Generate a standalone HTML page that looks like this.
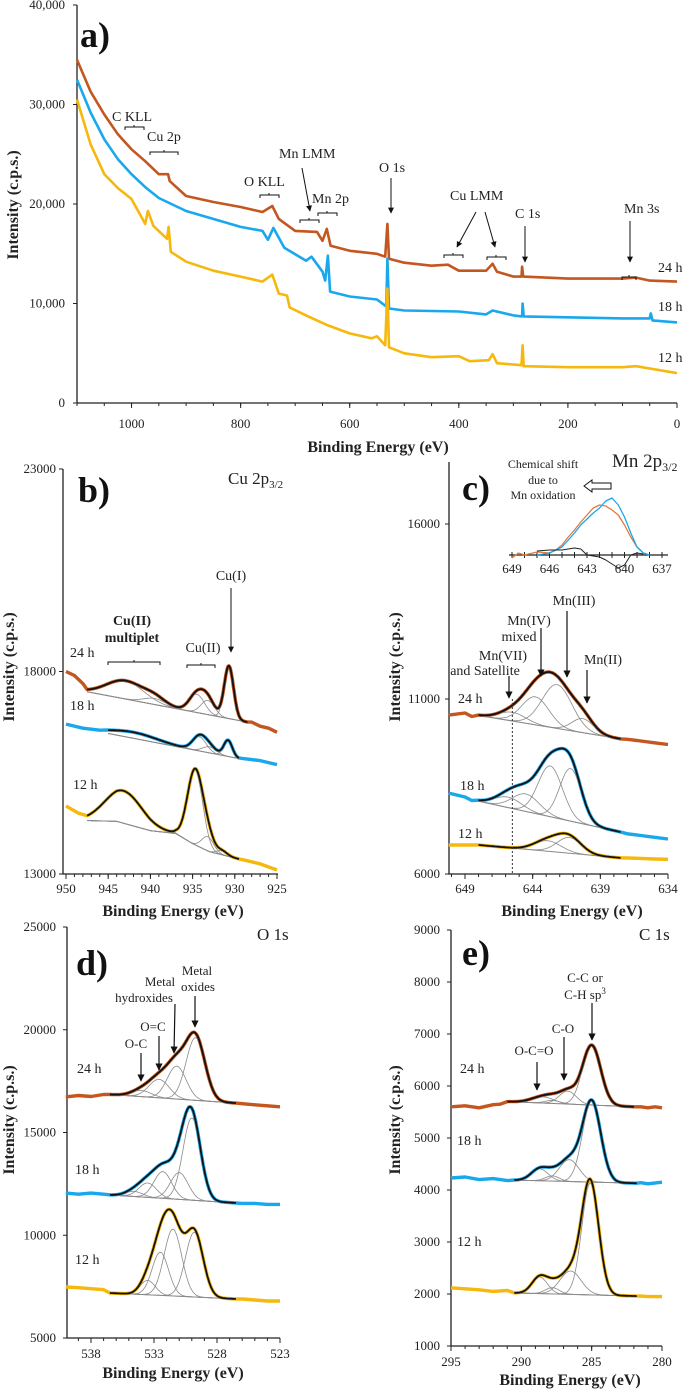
<!DOCTYPE html>
<html><head><meta charset="utf-8">
<style>
html,body{margin:0;padding:0;background:#fff;}
svg{display:block;font-family:"Liberation Serif",serif;}
.t{font-size:14px;fill:#222;}
.tk{font-size:13px;fill:#222;}
.ttl{font-size:16px;font-weight:bold;fill:#222;}
.lt{font-size:36px;font-weight:bold;fill:#111;}
.an{font-size:14px;fill:#222;}
</style></head>
<body>
<svg id="fig" width="685" height="1391" viewBox="0 0 685 1391" xmlns="http://www.w3.org/2000/svg">
<defs>
<marker id="ah" viewBox="0 0 10 10" refX="9" refY="5" markerWidth="6" markerHeight="7" orient="auto-start-reverse"><path d="M0,0 L10,5 L0,10 z" fill="#111"/></marker>
</defs>
<g id="axes"></g>
<g id="curves"></g>

<text class="lt" x="80" y="47">a)</text>
<text class="lt" x="78" y="502">b)</text>
<text class="lt" x="462" y="500">c)</text>
<text class="lt" x="76" y="975">d)</text>
<text class="lt" x="462" y="965">e)</text>

<text class="ttl" x="378" y="452" text-anchor="middle">Binding Energy (eV)</text>
<text class="ttl" x="173" y="916" text-anchor="middle">Binding Energy (eV)</text>
<text class="ttl" x="572" y="916" text-anchor="middle">Binding Energy (eV)</text>
<text class="ttl" x="173" y="1378" text-anchor="middle">Binding Energy (eV)</text>
<text class="ttl" x="570" y="1385" text-anchor="middle">Binding Energy (eV)</text>
<text class="ttl" transform="translate(18,205) rotate(-90)" text-anchor="middle">Intensity (c.p.s.)</text>
<text class="ttl" transform="translate(14,667) rotate(-90)" text-anchor="middle">Intensity (c.p.s.)</text>
<text class="ttl" transform="translate(400,667) rotate(-90)" text-anchor="middle">Intensity (c.p.s.)</text>
<text class="ttl" transform="translate(14,1120) rotate(-90)" text-anchor="middle">Intensity (c.p.s.)</text>
<text class="ttl" transform="translate(400,1120) rotate(-90)" text-anchor="middle">Intensity (c.p.s.)</text>

<g fill="none" stroke="#111" stroke-width="1">
<path d="M125,130 v-3 h19 v3 M134,127 v-2"/>
<path d="M150,155 v-3 h28 v3 M164,152 v-2"/>
<path d="M260,198 v-3 h19 v3 M269,195 v-2"/>
<path d="M300,223 v-3 h19 v3 M309,220 v-2"/>
<path d="M318,216 v-3 h19 v3 M327,213 v-2"/>
<path d="M444,258 v-3 h19 v3 M453,255 v-2"/>
<path d="M487,260 v-3 h19 v3 M496,257 v-2"/>
<path d="M622,280 v-3 h14 v3 M629,277 v-2"/>
<line x1="302" y1="168" x2="310" y2="211" marker-end="url(#ah)"/>
<line x1="391" y1="178" x2="391" y2="213" marker-end="url(#ah)"/>
<line x1="476" y1="212" x2="457" y2="247" marker-end="url(#ah)"/>
<line x1="485" y1="212" x2="495" y2="247" marker-end="url(#ah)"/>
<line x1="525" y1="226" x2="525" y2="262" marker-end="url(#ah)"/>
<line x1="630" y1="221" x2="630" y2="262" marker-end="url(#ah)"/>
</g>
<text class="an" x="112" y="121">C KLL</text>
<text class="an" x="147" y="141">Cu 2p</text>
<text class="an" x="244" y="186">O KLL</text>
<text class="an" x="279" y="158">Mn LMM</text>
<text class="an" x="312" y="203">Mn 2p</text>
<text class="an" x="379" y="172">O 1s</text>
<text class="an" x="450" y="200">Cu LMM</text>
<text class="an" x="515" y="218">C 1s</text>
<text class="an" x="624" y="213">Mn 3s</text>
<text class="an" x="658" y="272">24 h</text>
<text class="an" x="658" y="311">18 h</text>
<text class="an" x="658" y="362">12 h</text>

<text x="228" y="484" font-size="17" fill="#222">Cu 2p<tspan font-size="11" dy="4">3/2</tspan></text>
<text class="an" x="231" y="580" font-size="13" text-anchor="middle">Cu(I)</text>
<line x1="231" y1="588" x2="231" y2="652" stroke="#111" marker-end="url(#ah)"/>
<text class="an" x="132" y="625" text-anchor="middle" font-weight="bold" font-size="13">Cu(II)</text>
<text class="an" x="132" y="642" text-anchor="middle" font-weight="bold" font-size="13">multiplet</text>
<text class="an" x="203" y="652" text-anchor="middle" font-size="13">Cu(II)</text>
<path d="M108,665 v-3 h52 v3 M134,662 v-2 M187,668 v-3 h28 v3 M201,665 v-2" fill="none" stroke="#111"/>
<text class="an" x="70" y="657">24 h</text>
<text class="an" x="70" y="710">18 h</text>
<text class="an" x="73" y="789">12 h</text>

<text x="612" y="467" font-size="19" fill="#222">Mn 2p<tspan font-size="12" dy="4">3/2</tspan></text>
<text x="543" y="468" font-size="12" fill="#222" text-anchor="middle">Chemical shift</text>
<text x="543" y="484" font-size="12" fill="#222" text-anchor="middle">due to</text>
<text x="543" y="499" font-size="12" fill="#222" text-anchor="middle">Mn oxidation</text>
<path d="M584,486 l8,-6 v3 h19 v6 h-19 v3 z" fill="#fff" stroke="#111"/>
<text class="an" x="574" y="605" text-anchor="middle" font-size="13">Mn(III)</text>
<text class="an" x="529" y="625" text-anchor="middle" font-size="13">Mn(IV)</text>
<text class="an" x="519" y="641" text-anchor="middle" font-size="13">mixed</text>
<text class="an" x="503" y="660" text-anchor="middle" font-size="13">Mn(VII)</text>
<text class="an" x="485" y="675" text-anchor="middle" font-size="13">and Satellite</text>
<text class="an" x="603" y="664" text-anchor="middle" font-size="13">Mn(II)</text>
<g stroke="#111" stroke-width="1.2">
<line x1="567" y1="611" x2="567" y2="677" marker-end="url(#ah)"/>
<line x1="541" y1="628" x2="541" y2="676" marker-end="url(#ah)"/>
<line x1="509" y1="676" x2="509" y2="698" marker-end="url(#ah)"/>
<line x1="587" y1="670" x2="587" y2="703" marker-end="url(#ah)"/>
</g>
<text class="an" x="458" y="703">24 h</text>
<text class="an" x="460" y="790">18 h</text>
<text class="an" x="458" y="838">12 h</text>

<text x="257" y="940" font-size="17" fill="#222">O 1s</text>
<g font-size="13" fill="#222" text-anchor="middle">
<text x="197" y="975">Metal</text>
<text x="198" y="991">oxides</text>
<text x="160" y="986">Metal</text>
<text x="144" y="1002">hydroxides</text>
<text x="153" y="1031">O=C</text>
<text x="136" y="1048">O-C</text>
<text x="585" y="982">C-C  or</text>
<text x="585" y="999">C-H sp<tspan font-size="9" dy="-5">3</tspan></text>
<text x="563" y="1033">C-O</text>
<text x="534" y="1055">O-C=O</text>
</g>
<g stroke="#111" stroke-width="1.2">
<line x1="195" y1="996" x2="195" y2="1027" marker-end="url(#ah)"/>
<line x1="175" y1="1004" x2="174" y2="1053" marker-end="url(#ah)"/>
<line x1="159" y1="1036" x2="159" y2="1070" marker-end="url(#ah)"/>
<line x1="141" y1="1053" x2="141" y2="1081" marker-end="url(#ah)"/>
<line x1="592" y1="1003" x2="592" y2="1040" marker-end="url(#ah)"/>
<line x1="564" y1="1037" x2="564" y2="1080" marker-end="url(#ah)"/>
<line x1="537" y1="1062" x2="537" y2="1090" marker-end="url(#ah)"/>
</g>
<text class="an" x="77" y="1073">24 h</text>
<text class="an" x="75" y="1174">18 h</text>
<text class="an" x="75" y="1264">12 h</text>
<text x="639" y="940" font-size="17" fill="#222">C 1s</text>
<text class="an" x="460" y="1073">24 h</text>
<text class="an" x="457" y="1145">18 h</text>
<text class="an" x="457" y="1246">12 h</text>
</svg>

<script>
// ---------- Panel a: survey spectra ----------
const surveyE24=[1100,1075,1050,1025,1000,975,950,933,930,900,850,800,760,742,730,700,660,650,642,635,600,550,535,531,528,500,450,420,400,350,338,330,300,285,284,282,200,100,75,50,0];
const surveyV24=[34500,31300,29000,27000,25500,24300,23000,23000,22300,20800,20200,19700,19200,19800,18500,17300,17200,16300,17500,15800,15300,15000,14700,18000,14500,14100,13800,13900,13300,13300,14000,13200,12700,12700,13700,12700,12500,12500,12600,12300,12200];
const surveyE18=[1100,1075,1050,1025,1000,975,950,900,800,760,750,740,720,680,670,650,645,640,636,600,550,533,531,528,500,400,350,338,300,284,283,281,100,50,48,45,0];
const surveyV18=[32500,29200,26500,24500,23000,21700,20600,19300,17700,17300,16400,17600,15600,14300,14700,13200,12300,14800,11200,10700,10400,9700,14500,9500,9300,9200,8900,9300,8800,8700,10000,8700,8500,8500,9000,8300,8100];
const surveyE12=[1100,1075,1050,1025,1000,975,970,960,935,932,928,900,850,800,760,742,730,715,710,680,640,600,560,550,535,531,528,500,450,400,380,345,338,330,285,283,281,200,100,75,0];
const surveyV12=[30500,26000,23000,21600,20500,18000,19300,17800,16500,17700,15200,14200,13300,12700,12200,12900,11000,10800,9600,8800,7800,7000,6500,6700,5800,11500,5600,5000,4600,4700,4200,4300,4900,4000,3800,5800,3700,3600,3600,3700,3000];
const surveyXTicks=[1000,800,600,400,200,0];
const surveyYTicks=[0,10000,20000,30000,40000];

// ---------- Panel b: Cu 2p3/2 ----------
const b24LE=[950,949,948], b24LV=[18000,17900,17700];
const b24BE=[947.5,928.5], b24BV=[17500,16750];
const b24C=[943,939.5,934.5,933.2,930.7], b24H=[450,150,450,350,1300], b24S=[2.2,1.3,0.9,0.8,0.55];
const b24RE=[928,927,926,925], b24RV=[16750,16650,16600,16500];
const b18LE=[950,948,946], b18LV=[16700,16600,16550];
const b18BE=[945,929.5], b18BV=[16470,15850];
const b18C=[942,934.2,933,930.8], b18H=[150,350,150,400], b18S=[2.8,0.8,0.8,0.5];
const b18RE=[929,927,925], b18RV=[15850,15800,15700];
const b12LE=[950,948.5], b12LV=[14680,14500];
const b12BE=[947.5,944,940,937,935,933,929.5], b12BV=[14320,14300,14070,14000,13750,13550,13370];
const b12C=[943.2,934.7,933.2,931.5], b12H=[800,1850,350,100], b12S=[2.2,0.9,0.7,0.6];
const b12RE=[929,927,925], b12RV=[13350,13250,13100];
const bXTicks=[950,945,940,935,930,925], bYTicks=[13000,18000,23000];

// ---------- Panel c: Mn 2p3/2 ----------
const c24LE=[650.2,649,648.5], c24LV=[10540,10600,10500];
const c24BE=[648,637.5], c24BV=[10530,9860];
const c24C=[645.5,643.8,642.2,640.3], c24H=[250,800,1250,400], c24S=[1,1,1.1,0.8];
const c24RE=[637,636,635,634], c24RV=[9850,9800,9750,9700];
const c18LE=[650.2,649,648.5], c18LV=[8310,8200,8100];
const c18BE=[648,637.5], c18BV=[8080,7200];
const c18C=[645.8,644.5,642.7,641.2], c18H=[300,500,1450,1500], c18S=[1,1,0.9,0.8];
const c18RE=[637,636,635,634], c18RV=[7150,7100,7050,7000];
const c12LE=[650.2,649], c12LV=[6830,6830];
const c12BE=[648,637.5], c12BV=[6830,6460];
const c12C=[642.9,641.3], c12H=[300,450], c12S=[1,0.9];
const c12RE=[637,635,634], c12RV=[6460,6430,6420];
const cXTicks=[649,644,639,634], cYTicks=[6000,11000,16000];
const insetOE=[649,648.5,648,647,646,645.5,645,644.5,644,643.5,643,642.5,642,641.5,641,640.5,640,639.5,639,638.5,638];
const insetOV=[-3,2,0,3,2,5,10,18,25,33,40,47,50,49,45,40,30,18,8,2,0];
const insetBE=[647,646,645.5,645,644.5,644,643.5,643,642.5,642,641.5,641,640.5,640,639.5,639,638.5,638];
const insetBV=[0,2,5,8,15,22,30,36,42,47,54,57,50,38,22,8,2,0];
const insetDE=[647,646,645,644,643.5,643,642,641.5,641,640.5,640,639.5,639,638.5];
const insetDV=[4,5,5,7,6,0,-2,-5,-9,-13,-10,0,2,1];
const insetXTicks=[649,646,643,640,637];

// ---------- Panel d: O 1s ----------
const d24LE=[540,539,538,537], d24LV=[16730,16800,16750,16850];
const d24BE=[536.5,526.5], d24BV=[16850,16430];
const d24C=[534,532.6,531.2,529.7], d24H=[300,900,1600,3050], d24S=[0.8,0.8,0.75,0.75];
const d24RE=[526,525,524,523], d24RV=[16400,16350,16300,16250];
const d18LE=[540,539,538,537], d18LV=[12050,12000,12050,12000];
const d18BE=[536.5,526.5], d18BV=[11960,11570];
const d18C=[534.6,533.5,532.3,531,530], d18H=[250,700,1300,1300,4000], d18S=[0.7,0.7,0.7,0.7,0.7];
const d18RE=[526,525,524,523], d18RV=[11550,11550,11500,11500];
const d12LE=[540,539,538,537], d12LV=[7480,7450,7400,7350];
const d12BE=[536.5,526.5], d12BV=[7190,6900];
const d12C=[533.5,532.5,531.5,529.8], d12H=[700,2100,3250,3150], d12S=[0.6,0.65,0.7,0.7];
const d12RE=[526,525,524,523], d12RV=[6900,6850,6800,6800];
const dXTicks=[538,533,528,523], dYTicks=[5000,10000,15000,20000,25000];

// ---------- Panel e: C 1s ----------
const e24LE=[295,294,293,292,291.5], e24LV=[5600,5620,5580,5640,5650];
const e24BE=[291,282], e24BV=[5700,5600];
const e24C=[288.5,287.8,286.7,285], e24H=[120,60,250,1150], e24S=[0.8,0.5,0.6,0.65];
const e24RE=[281.5,281,280.5,280], e24RV=[5600,5580,5600,5580];
const e18LE=[295,294,293,292,291], e18LV=[4230,4250,4200,4220,4180];
const e18BE=[290.5,281.8], e18BV=[4190,4130];
const e18C=[288.7,287.8,286.6,285], e18H=[230,100,420,1550], e18S=[0.6,0.5,0.7,0.65];
const e18RE=[281.5,281,280], e18RV=[4140,4120,4150];
const e12LE=[295,294,293,292,291], e12LV=[2120,2100,2080,2050,2070];
const e12BE=[290.5,281.8], e12BV=[2020,1960];
const e12C=[288.7,287.8,286.5,285.1], e12H=[320,120,450,2150], e12S=[0.55,0.5,0.75,0.6];
const e12RE=[281.5,281,280], e12RV=[1960,1950,1950];
const eXTicks=[295,290,285,280], eYTicks=[1000,2000,3000,4000,5000,6000,7000,8000,9000];

const ORANGE='#c4561f', BLUE='#1aa8ec', YELLOW='#f6b80c';
const NS='http://www.w3.org/2000/svg';
const axesG=document.getElementById('axes');
const curvesG=document.getElementById('curves');
function lin(a1,p1,a2,p2){return v=>p1+(v-a1)*(p2-p1)/(a2-a1);}
function mk(tag,attrs,parent){const n=document.createElementNS(NS,tag);for(const k in attrs)n.setAttribute(k,attrs[k]);parent.appendChild(n);return n;}
function interp(xs,ys,x){
  if(xs.length===1)return ys[0];
  for(let i=0;i<xs.length-1;i++){const a=xs[i],b=xs[i+1];if((x<=a&&x>=b)||(x>=a&&x<=b)){return ys[i]+(x-a)*(ys[i+1]-ys[i])/(b-a);}}
  return x>xs[0]===(xs[0]>xs[xs.length-1])?ys[0]:ys[ys.length-1];
}
function polyline(pts,color,w,name){
  const p=mk('polyline',{points:pts.map(q=>q[0].toFixed(1)+','+q[1].toFixed(1)).join(' '),fill:'none',stroke:color,'stroke-width':w,'stroke-linejoin':'round'},curvesG);
  
  
  return p;
}
function axes(P){
  const l=mk('path',{d:`M${P.x0},${P.yTop} V${P.y0} H${P.xEnd}`,fill:'none',stroke:'#222','stroke-width':1.3},axesG);
  
  
  for(let e=P.tStart;P.tStart>P.tEnd?e>=P.tEnd-1e-9:e<=P.tEnd;e+=P.tStep*(P.tStart>P.tEnd?-1:1)){
    const x=P.X(e);
    if(x<P.x0-0.5||x>P.xEnd+0.5)continue;
    const t=mk('line',{x1:x,x2:x,y1:P.y0,y2:P.y0+3,stroke:'#222','stroke-width':1},axesG);
    
    
  }
  P.xTicks.forEach(e=>{
    const x=P.X(e);
    mk('line',{x1:x,x2:x,y1:P.y0,y2:P.y0+5,stroke:'#222','stroke-width':1},axesG);
    const t=mk('text',{x:x,y:P.xLabY,'text-anchor':'middle',class:'tk'},axesG);
    
    
    t.textContent=P.fmtX?P.fmtX(e):e;
  });
  P.yTicks.forEach(v=>{
    const y=P.Y(v);
    mk('line',{x1:P.x0-4,x2:P.x0,y1:y,y2:y,stroke:'#222','stroke-width':1},axesG);
    const t=mk('text',{x:P.yLabX,y:y+4,'text-anchor':'end',class:'tk'},axesG);
    
    
    t.textContent=P.fmtY?P.fmtY(v):v;
  });
}
function gauss(e,c,h,s){return h*Math.exp(-0.5*((e-c)/s)*((e-c)/s));}
function spectrum(P,LE,LV,BE,BV,C,H,S,RE,RV,color,bcol,name){
  const e1=BE[0],e2=BE[BE.length-1];
  const fit=[],bk=[];
  for(let e=e1;e>=e2-1e-9;e-=0.05){
    const b=interp(BE,BV,e);let s=b;
    for(let i=0;i<C.length;i++)s+=gauss(e,C[i],H[i],S[i]);
    fit.push([e,s]);bk.push([e,b]);
  }
  const raw=LE.map((e,i)=>[e,LV[i]]).concat(fit,RE.map((e,i)=>[e,RV[i]]));
  polyline(raw.map(q=>[P.X(q[0]),P.Y(q[1])]),color,3.4,name+'-data');
  polyline(bk.map(q=>[P.X(q[0]),P.Y(q[1])]),bcol,1,name+'-background');
  for(let i=0;i<C.length;i++){
    const pts=[];
    for(let e=e1;e>=e2-1e-9;e-=0.05){pts.push([P.X(e),P.Y(interp(BE,BV,e)+gauss(e,C[i],H[i],S[i]))]);}
    polyline(pts,'#8a8a8a',0.8,name+'-component-'+(i+1));
  }
  polyline(fit.map(q=>[P.X(q[0]),P.Y(q[1])]),'#111',1.8,name+'-fit-envelope');
}

const PA={name:'survey',X:lin(1100,77,0,677),Y:lin(40000,5,0,403),x0:77,xEnd:677,y0:403,yTop:5,tStart:1100,tEnd:0,tStep:50,xTicks:surveyXTicks,yTicks:surveyYTicks,xLabY:428,yLabX:65,fmtY:v=>v.toLocaleString('en-US')};
axes(PA);
[[surveyE24,surveyV24,ORANGE,'survey-24h'],[surveyE18,surveyV18,BLUE,'survey-18h'],[surveyE12,surveyV12,YELLOW,'survey-12h']].forEach(s=>{
  polyline(s[0].map((e,i)=>[PA.X(e),PA.Y(s[1][i])]),s[2],2.6,s[3]);
});

const PB={name:'cu2p',X:lin(950,66,925,277),Y:lin(23000,469,13000,874),x0:63,xEnd:278,y0:874,yTop:469,tStart:950,tEnd:925,tStep:1,xTicks:bXTicks,yTicks:bYTicks,xLabY:893,yLabX:56};
axes(PB);
spectrum(PB,b24LE,b24LV,b24BE,b24BV,b24C,b24H,b24S,b24RE,b24RV,ORANGE,'#8a8a8a','cu2p-24h');
spectrum(PB,b18LE,b18LV,b18BE,b18BV,b18C,b18H,b18S,b18RE,b18RV,BLUE,'#8a8a8a','cu2p-18h');
spectrum(PB,b12LE,b12LV,b12BE,b12BV,b12C,b12H,b12S,b12RE,b12RV,YELLOW,'#4f7a3a','cu2p-12h');

const PC={name:'mn2p',X:lin(649,465,634,668),Y:lin(16000,524,6000,874),x0:449,xEnd:668,y0:874,yTop:462,tStart:650,tEnd:634,tStep:1,xTicks:cXTicks,yTicks:cYTicks,xLabY:893,yLabX:440};
axes(PC);
spectrum(PC,c24LE,c24LV,c24BE,c24BV,c24C,c24H,c24S,c24RE,c24RV,ORANGE,'#8a8a8a','mn2p-24h');
spectrum(PC,c18LE,c18LV,c18BE,c18BV,c18C,c18H,c18S,c18RE,c18RV,BLUE,'#8a8a8a','mn2p-18h');
spectrum(PC,c12LE,c12LV,c12BE,c12BV,c12C,c12H,c12S,c12RE,c12RV,YELLOW,'#8a8a8a','mn2p-12h');
const dl=mk('line',{x1:PC.X(645.5),x2:PC.X(645.5),y1:699,y2:874,stroke:'#333','stroke-dasharray':'2,2','stroke-width':1},curvesG);


const IX=lin(649,512,637,662), IY=v=>555-v;
const ia=mk('line',{x1:509,x2:668,y1:555,y2:555,stroke:'#222','stroke-width':1.3},axesG);


for(let e=649;e>=637;e--){mk('line',{x1:IX(e),x2:IX(e),y1:552,y2:558,stroke:'#222','stroke-width':1},axesG);}
insetXTicks.forEach(e=>{
  const t=mk('text',{x:IX(e),y:573,'text-anchor':'middle',class:'tk','font-size':'12'},axesG);
  
  
  t.textContent=e;
});
polyline(insetOE.map((e,i)=>[IX(e),IY(insetOV[i])]),'#e07a40',1.3,'inset-24h');
polyline(insetBE.map((e,i)=>[IX(e),IY(insetBV[i])]),BLUE,1.3,'inset-18h');
polyline(insetDE.map((e,i)=>[IX(e),IY(insetDV[i])]),'#222',1,'inset-difference');

const PD={name:'o1s',X:lin(538,91,523,280),Y:lin(25000,927,5000,1338),x0:67,xEnd:280,y0:1338,yTop:927,tStart:540,tEnd:523,tStep:1,xTicks:dXTicks,yTicks:dYTicks,xLabY:1358,yLabX:56};
axes(PD);
spectrum(PD,d24LE,d24LV,d24BE,d24BV,d24C,d24H,d24S,d24RE,d24RV,ORANGE,'#8a8a8a','o1s-24h');
spectrum(PD,d18LE,d18LV,d18BE,d18BV,d18C,d18H,d18S,d18RE,d18RV,BLUE,'#8a8a8a','o1s-18h');
spectrum(PD,d12LE,d12LV,d12BE,d12BV,d12C,d12H,d12S,d12RE,d12RV,YELLOW,'#8a8a8a','o1s-12h');

const PE={name:'c1s',X:lin(295,451,280,662),Y:lin(9000,930,1000,1346),x0:451,xEnd:662,y0:1346,yTop:930,tStart:295,tEnd:280,tStep:1,xTicks:eXTicks,yTicks:eYTicks,xLabY:1366,yLabX:440};
axes(PE);
spectrum(PE,e24LE,e24LV,e24BE,e24BV,e24C,e24H,e24S,e24RE,e24RV,ORANGE,'#8a8a8a','c1s-24h');
spectrum(PE,e18LE,e18LV,e18BE,e18BV,e18C,e18H,e18S,e18RE,e18RV,BLUE,'#8a8a8a','c1s-18h');
spectrum(PE,e12LE,e12LV,e12BE,e12BV,e12C,e12H,e12S,e12RE,e12RV,YELLOW,'#8a8a8a','c1s-12h');
</script>
</body></html>
